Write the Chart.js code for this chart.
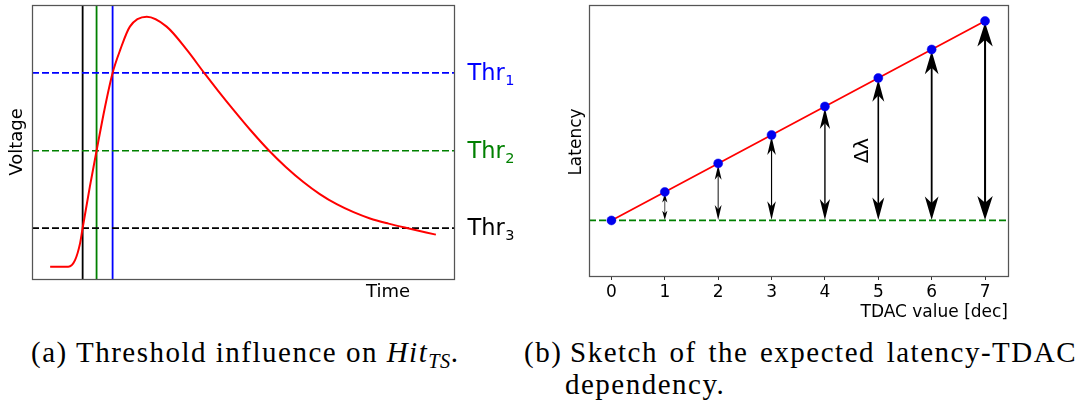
<!DOCTYPE html>
<html>
<head>
<meta charset="utf-8">
<script src="https://cdn.jsdelivr.net/npm/chart.js@4.4.1/dist/chart.umd.min.js"></script>
<style>
  body { margin: 0; background: #fff; }
  #wrap { position: relative; width: 1082px; height: 409px; overflow: hidden; }
  canvas { position: absolute; top: 0; }
  #pulseChart { left: 0; }
  #latencyChart { left: 541px; }
  .cap {
    position: absolute;
    font-family: 'Liberation Serif', serif;
    font-size: 29px;
    line-height: 32px;
    letter-spacing: 1.5px;
    color: #000;
    white-space: nowrap;
  }
  .cap sub { font-size: 0.7em; vertical-align: -0.28em; line-height: 0; letter-spacing: 0.5px; }
  #capA { left: 31px; top: 336px; }
  #capB { left: 524px; top: 336px; }
  #capBText { left: 570px; top: 336px; width: 507px; white-space: normal; text-align: justify; text-align-last: justify; }
  #capBText2 { left: 565px; top: 368px; }
</style>
</head>
<body>
<div id="wrap">
  <canvas id="pulseChart" width="541" height="320"></canvas>
  <canvas id="latencyChart" width="541" height="330"></canvas>
  <div class="cap" id="capA">(a) Threshold influence on <i>Hit</i><sub><i>TS</i></sub>.</div>
  <div class="cap" id="capB">(b)</div>
  <div class="cap" id="capBText">Sketch of the expected latency-TDAC</div>
  <div class="cap" id="capBText2">dependency.</div>
</div>
<script>
Chart.defaults.font.family = 'DejaVu Sans';

// (a) shaper pulse, arbitrary units
const pulseTime    = [4.3, 8.6, 10.2, 11.4, 12.0, 13.7, 15.3, 17.3, 19.1, 20.9, 23.2, 27.2, 31.9, 36.7, 40.8, 44.2, 47.6, 51.9, 56.2, 60.2, 64.3, 68.2, 72.2, 76.2, 80.1, 84.5, 88.8, 95.7];
const pulseVoltage = [4.5, 4.5, 6.9, 13.1, 18.6, 33.6, 46.8, 62.8, 75.2, 83.6, 92.1, 95.7, 92.1, 83.6, 75.2, 68.5, 62.0, 54.1, 46.8, 40.8, 35.4, 31.0, 27.3, 24.4, 22.1, 20.2, 18.6, 16.2];
const thrNames     = ['1', '2', '3'];
const thrLevels    = [75.2, 46.8, 18.6];
const thrCrossing  = [19.1, 15.3, 12.0];   // rising edge time for each threshold
const thrColors    = ['#0000ff', '#008000', '#000000'];

// (b) latency vs TDAC sketch
const tdacValues   = [0, 1, 2, 3, 4, 5, 6, 7];
const latency      = [0, 1, 2, 3, 4, 5, 6, 7];

const frameColor = '#555';

function drawFrame(ctx, a) {
  ctx.save();
  ctx.strokeStyle = frameColor;
  ctx.lineWidth = 1.25;
  ctx.strokeRect(Math.round(a.left) + 0.5, Math.round(a.top) + 0.5,
                 Math.round(a.right - a.left), Math.round(a.bottom - a.top));
  ctx.restore();
}

function rotatedText(ctx, text, x, y, font) {
  ctx.save();
  ctx.translate(x, y);
  ctx.rotate(-Math.PI / 2);
  ctx.font = font;
  ctx.fillStyle = '#000';
  ctx.textAlign = 'center';
  ctx.textBaseline = 'middle';
  ctx.fillText(text, 0, 0);
  ctx.restore();
}

const pulseDecor = {
  id: 'pulseDecor',
  afterDraw(chart) {
    const { ctx, chartArea: a, scales: { y } } = chart;
    drawFrame(ctx, a);

    ctx.save();
    ctx.fillStyle = '#000';
    ctx.font = '18px "DejaVu Sans"';
    ctx.textAlign = 'center';
    ctx.textBaseline = 'middle';
    ctx.fillText('Time', a.right - 66, a.bottom + 13);
    ctx.restore();
    rotatedText(ctx, 'Voltage', 17, (a.top + a.bottom) / 2, '18px "DejaVu Sans"');

    // Thr_n labels right of the frame
    ctx.save();
    ctx.textAlign = 'left';
    ctx.textBaseline = 'alphabetic';
    thrLevels.forEach((v, i) => {
      const yy = y.getPixelForValue(v);
      const x0 = a.right + 13.5;
      ctx.fillStyle = thrColors[i];
      ctx.font = '22.5px "DejaVu Sans"';
      ctx.fillText('Thr', x0, yy + 7);
      const w = ctx.measureText('Thr').width;
      ctx.font = '14.5px "DejaVu Sans"';
      ctx.fillText(thrNames[i], x0 + w + 0.5, yy + 12);
    });
    ctx.restore();
  }
};

const pulseData = pulseTime.map((t, i) => ({ x: t, y: pulseVoltage[i] }));

new Chart(document.getElementById('pulseChart'), {
  type: 'scatter',
  data: {
    datasets: [
      {
        data: pulseData,
        showLine: true,
        borderColor: '#ff0000',
        borderWidth: 2,
        pointRadius: 0,
        cubicInterpolationMode: 'monotone'
      },
      ...thrLevels.map((v, i) => ({
        data: [{ x: 0, y: v }, { x: 100, y: v }],
        showLine: true,
        borderColor: thrColors[i],
        borderWidth: 1.7,
        borderDash: [7, 3],
        pointRadius: 0
      })),
      ...thrCrossing.map((t, i) => ({
        data: [{ x: t, y: 0 }, { x: t, y: 100 }],
        showLine: true,
        borderColor: thrColors[i],
        borderWidth: 1.8,
        pointRadius: 0
      }))
    ]
  },
  options: {
    responsive: false,
    animation: false,
    devicePixelRatio: 1,
    events: [],
    layout: { padding: { left: 32, right: 87, top: 5, bottom: 41 } },
    scales: {
      x: { type: 'linear', display: false, min: 0, max: 100 },
      y: { type: 'linear', display: false, min: 0, max: 100 }
    },
    plugins: { legend: { display: false }, tooltip: { enabled: false } }
  },
  plugins: [pulseDecor]
});

// double headed arrow, head grows with the size of the step
function arrowHead(ctx, x, tipY, dir, hw, hl) {
  ctx.beginPath();
  ctx.moveTo(x, tipY);
  ctx.lineTo(x - hw / 2, tipY + dir * hl);
  ctx.lineTo(x, tipY + dir * hl * 0.72);
  ctx.lineTo(x + hw / 2, tipY + dir * hl);
  ctx.closePath();
  ctx.fill();
}

const latencyDecor = {
  id: 'latencyDecor',
  beforeDatasetsDraw(chart) {
    const { ctx, scales: { x, y } } = chart;
    const yBase = y.getPixelForValue(latency[0]);
    ctx.save();
    ctx.strokeStyle = '#000';
    ctx.fillStyle = '#000';
    for (let i = 1; i < tdacValues.length; i++) {
      const d = latency[i] - latency[0];
      const px = x.getPixelForValue(tdacValues[i]);
      const yTop = y.getPixelForValue(latency[i]) + 1.5;
      const yBot = yBase - 0.5;
      const lw = 0.5 + 0.22 * d;
      const hw = 3.5 + 1.7 * d;
      const hl = 25 * (1 - Math.exp(-d / 2.2));
      ctx.lineWidth = lw;
      ctx.beginPath();
      ctx.moveTo(px, yTop + hl * 0.7);
      ctx.lineTo(px, yBot - hl * 0.7);
      ctx.stroke();
      arrowHead(ctx, px, yTop, 1, hw, hl);
      arrowHead(ctx, px, yBot, -1, hw, hl);
    }
    ctx.restore();
  },
  afterDraw(chart) {
    const { ctx, chartArea: a, scales: { x, y } } = chart;
    drawFrame(ctx, a);
    rotatedText(ctx, 'Latency', a.left - 12.6, (a.top + a.bottom) / 2 + 1.5, '17px "DejaVu Sans"');
    rotatedText(ctx, 'Δλ', x.getPixelForValue(4.71), y.getPixelForValue(2.45), '20px "DejaVu Sans"');
  }
};

const xMin = -0.42, xMax = 7.43;

new Chart(document.getElementById('latencyChart'), {
  type: 'scatter',
  data: {
    datasets: [
      {
        data: tdacValues.map((v, i) => ({ x: v, y: latency[i] })),
        showLine: true,
        borderColor: '#ff0000',
        borderWidth: 1.8,
        pointRadius: 4.5,
        pointBackgroundColor: '#0000ee',
        pointBorderColor: '#0000ee',
        pointBorderWidth: 0.5
      },
      {
        data: [{ x: xMin, y: latency[0] }, { x: xMax, y: latency[0] }],
        showLine: true,
        borderColor: '#008000',
        borderWidth: 1.7,
        borderDash: [7, 3],
        pointRadius: 0
      }
    ]
  },
  options: {
    responsive: false,
    animation: false,
    devicePixelRatio: 1,
    events: [],
    layout: { padding: { left: 48, right: 74, top: 4, bottom: 4 } },
    scales: {
      x: {
        type: 'linear',
        min: xMin,
        max: xMax,
        afterBuildTicks: s => { s.ticks = tdacValues.map(v => ({ value: v })); },
        afterFit: s => { s.height = 50; },
        grid: { drawOnChartArea: false, drawTicks: true, tickLength: 4, color: '#333', lineWidth: 1 },
        border: { display: false },
        ticks: { color: '#000', font: { size: 17 }, padding: 2, maxRotation: 0, autoSkip: false },
        title: {
          display: true,
          text: 'TDAC value [dec]',
          align: 'end',
          color: '#000',
          font: { size: 17 },
          padding: { top: 0, bottom: 3 }
        }
      },
      y: { type: 'linear', display: false, min: -1.95, max: 7.56 }
    },
    plugins: { legend: { display: false }, tooltip: { enabled: false } }
  },
  plugins: [latencyDecor]
});
</script>
</body>
</html>
